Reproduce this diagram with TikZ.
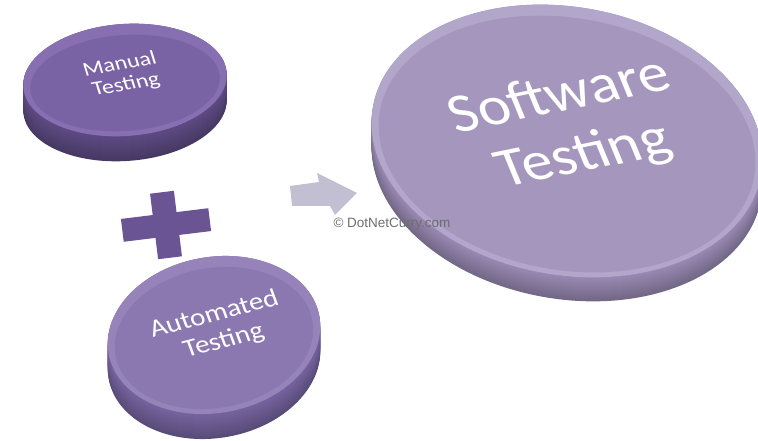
\documentclass[tikz,border=0pt]{standalone}
\usepackage{fontspec}
\setmainfont{Carlito}
\newfontfamily\wmfont{Liberation Sans}
\definecolor{mTop}{HTML}{7A63A5}
\definecolor{mRim}{HTML}{876FB1}
\definecolor{mSide}{HTML}{5E4B84}
\definecolor{aTop}{HTML}{8B78B0}
\definecolor{aRim}{HTML}{9683BA}
\definecolor{aSide}{HTML}{7664A0}
\definecolor{sTop}{HTML}{A596BD}
\definecolor{sRim}{HTML}{B3A6CB}
\definecolor{sSide}{HTML}{998AB3}
\definecolor{plusC}{HTML}{6B5494}
\definecolor{arrC}{HTML}{C3BFD3}
\definecolor{wmC}{HTML}{6E6E6E}
% #1 cx, #2 cy, #3 a, #4 b, #5 rot, #6 thickness, #7 side, #8 top, #9 rim
\newcommand\mydisc[9]{%
  \foreach \t in {#6,...,0}{%
    \pgfmathsetmacro\pc{100-25*\t/#6}%
    \fill[#7!\pc!black, rotate around={#5:(#1,#2-\t)}] (#1,#2-\t) ellipse [x radius=#3, y radius=#4];
  }%
  \fill[#9, rotate around={#5:(#1,#2)}] (#1,#2) ellipse [x radius=#3, y radius=#4];
  \fill[#8, rotate around={#5:(#1,#2-3)}] (#1,#2-3) ellipse [x radius=#3-7, y radius=#4-8];
}
\tikzset{
  disctext/.style={text=white, align=center, transform shape, inner sep=0pt},
}
\begin{document}
\begin{tikzpicture}[x=1pt,y=1pt]
\useasboundingbox (0,0) rectangle (758,441);
\fill[white] (0,0) rectangle (758,441);

% discs
\mydisc{125}{361}{102}{56}{4}{25}{mSide}{mTop}{mRim}
\mydisc{214}{106}{107}{78}{10}{25}{aSide}{aTop}{aRim}
\mydisc{567}{300}{197}{134}{-10}{24}{sSide}{sTop}{sRim}

% plus sign
\fill[plusC, rotate around={7:(166,216)}]
  (166-44,216-11.5) -- (166-12,216-11.5) -- (166-12,216-33) -- (166+12,216-33)
  -- (166+12,216-11.5) -- (166+44,216-11.5) -- (166+44,216+11.5) -- (166+12,216+11.5)
  -- (166+12,216+33) -- (166-12,216+33) -- (166-12,216+11.5) -- (166-44,216+11.5) -- cycle;

% arrow
\fill[arrC] (290,255) -- (319,259) -- (317,268) -- (357,248) -- (335,226) -- (330,235) -- (292,235) -- cycle;

% watermark
\node[font=\wmfont\fontsize{13.5}{15}\selectfont, text=wmC, inner sep=0pt] (wm) at (392,217) {© DotNetCurry.com};

% texts
\begin{scope}[shift={(123,366)}, cm={0.98,0.17,-0.25,0.8,(0,0)}]
  \node[disctext, font=\fontsize{24}{25}\selectfont] (manual) at (0,0) {Manual\\Testing};
\end{scope}
\begin{scope}[shift={(219,113)}, cm={0.96,0.25,-0.3,0.82,(0,0)}]
  \node[disctext, font=\fontsize{29}{32}\selectfont] (auto) at (0,0) {Automated\\Testing};
\end{scope}
\begin{scope}[shift={(572,314)}, cm={0.97,0.2,-0.35,0.85,(0,0)}]
  \node[disctext, font=\fontsize{62}{70}\selectfont] (soft) at (0,0) {Software\\Testing};
\end{scope}
\end{tikzpicture}
\end{document}
